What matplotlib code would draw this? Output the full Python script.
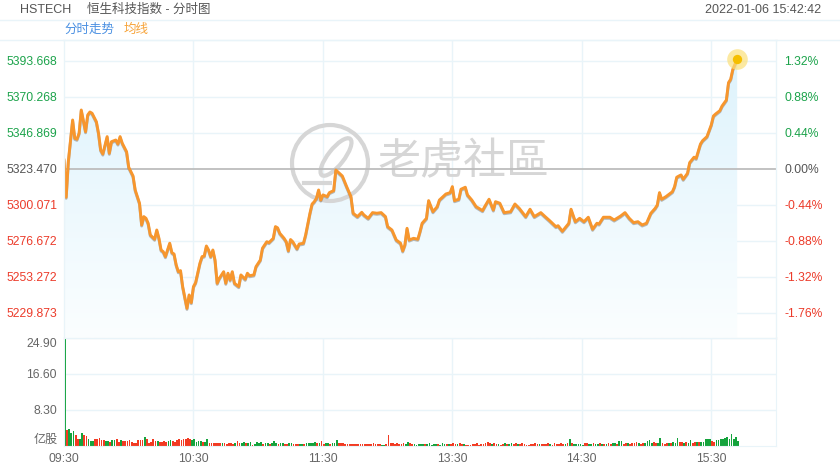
import matplotlib.pyplot as plt
import matplotlib.patheffects as pe
from matplotlib.colors import LinearSegmentedColormap
from matplotlib.patches import Circle, Ellipse
import numpy as np

plt.rcParams['font.family'] = ['Liberation Sans', 'Noto Sans CJK SC', 'DejaVu Sans']

# ---- data ----
prev_close = 5323.47

# minutes after 09:30 (lunch break removed: 13:00 = 150)
minutes = [0, 1, 2, 4, 5, 6, 7, 8, 10, 11, 12, 13, 15, 16, 17, 18, 20, 21, 22, 24,
           25, 26, 27, 29, 30, 32, 33, 35, 36, 37, 38, 39, 40, 42, 43, 44, 45, 46, 47, 49,
           50, 51, 52, 53, 54, 55, 57, 58, 59, 60, 61, 63, 64, 65, 66, 67, 68, 69, 70, 71,
           72, 74, 75, 76, 77, 78, 79, 81, 82, 84, 85, 86, 88, 89, 91, 92, 94, 95, 97, 98,
           99, 100, 102, 103, 104, 105, 106, 108, 109, 111, 112, 114, 115, 116, 117, 118, 119, 120, 122, 123,
           125, 126, 128, 129, 131, 133, 134, 136, 138, 139, 141, 143, 145, 147, 149, 150, 152, 153, 154, 156,
           157, 158, 159, 160, 162, 164, 165, 166, 168, 169, 171, 173, 174, 177, 179, 180, 181, 183, 184, 186,
           187, 189, 191, 194, 195, 197, 199, 200, 202, 204, 207, 209, 211, 214, 216, 218, 221, 223, 225, 228,
           229, 231, 234, 235, 237, 239, 241, 243, 245, 247, 248, 250, 253, 255, 258, 260, 262, 264, 266, 268,
           270, 272, 274, 275, 276, 277, 279, 282, 283, 284, 285, 286, 287, 289, 290, 292, 293, 295, 296, 298,
           300, 301, 302, 304, 305, 307, 308, 309, 310, 312]

prices = [5329.3, 5305.1, 5328.2, 5355.3, 5343.4, 5342.8, 5346.7, 5361.8, 5347.7, 5358.6,
          5360.5, 5359.7, 5354.2, 5346.7, 5335.8, 5333.2, 5344.5, 5333.7, 5341.2, 5342.3,
          5339.7, 5344.5, 5340.2, 5334.7, 5324.6, 5318.9, 5309.8, 5301.2, 5287.1, 5292.5,
          5291.4, 5288.2, 5280.6, 5277.8, 5283.8, 5278.4, 5270.8, 5269.7, 5266.5, 5275.2,
          5269.1, 5268.2, 5261.1, 5256.7, 5257.4, 5247.0, 5232.9, 5241.6, 5236.6, 5247.0,
          5249.6, 5262.2, 5266.5, 5266.9, 5273.4, 5270.8, 5266.5, 5270.8, 5264.3, 5249.2,
          5252.4, 5256.7, 5249.2, 5255.7, 5251.3, 5256.7, 5249.2, 5247.0, 5254.6, 5251.8,
          5255.7, 5254.1, 5254.6, 5260.0, 5264.3, 5272.0, 5276.2, 5275.6, 5278.4, 5286.0,
          5285.2, 5281.7, 5278.4, 5276.2, 5270.3, 5277.6, 5276.2, 5271.6, 5274.7, 5275.2,
          5280.6, 5294.7, 5300.7, 5302.2, 5304.4, 5309.8, 5303.3, 5306.6, 5305.5, 5308.1,
          5309.4, 5322.8, 5320.2, 5318.9, 5312.0, 5305.5, 5294.7, 5292.5, 5295.3, 5293.6,
          5291.4, 5295.1, 5294.7, 5295.1, 5292.5, 5286.0, 5283.8, 5280.6, 5277.3, 5275.2,
          5270.2, 5274.1, 5284.9, 5277.3, 5278.4, 5277.8, 5282.7, 5288.2, 5291.4, 5302.9,
          5295.7, 5299.0, 5303.3, 5307.2, 5308.1, 5312.0, 5302.9, 5303.8, 5310.3, 5311.6,
          5306.6, 5303.3, 5299.0, 5296.4, 5299.0, 5303.8, 5296.8, 5302.2, 5301.2, 5295.1,
          5295.7, 5300.7, 5297.9, 5292.5, 5297.3, 5292.5, 5295.1, 5292.5, 5290.0, 5286.0,
          5286.6, 5283.0, 5288.2, 5297.3, 5289.2, 5291.4, 5289.2, 5292.1, 5284.3, 5288.2,
          5287.7, 5292.1, 5292.1, 5290.3, 5292.9, 5295.1, 5291.4, 5288.6, 5289.2, 5287.1,
          5288.2, 5294.7, 5297.9, 5300.1, 5308.1, 5303.8, 5305.5, 5308.7, 5312.0, 5318.1,
          5318.9, 5319.6, 5316.8, 5320.7, 5327.6, 5331.1, 5330.4, 5339.7, 5341.9, 5344.5,
          5352.1, 5357.9, 5359.2, 5361.4, 5364.4, 5368.3, 5379.6, 5381.8, 5388.3, 5394.8]

# volume per minute (亿股), g = up, r = down
volume = [24.9, 3.7, 3.9, 3.1, 3.4, 2.5, 1.5, 1.6, 2.9, 2.5,
          2.2, 1.5, 1.15, 1.15, 1.7, 1.6, 1.8, 1.4, 1.4, 1.15,
          1.15, 0.9, 1.4, 1.3, 1.5, 0.9, 1.3, 1.15, 1.1, 1.15,
          1.4, 0.85, 0.8, 0.8, 1.4, 1.4, 1.4, 2.0, 1.5, 0.8,
          0.9, 1.5, 1.1, 1.15, 1.0, 1.0, 1.2, 1.0, 1.15, 1.4,
          1.15, 0.85, 1.4, 1.6, 1.4, 1.5, 1.7, 1.8, 1.6, 1.4,
          1.5, 0.85, 1.15, 1.2, 0.85, 1.0, 1.5, 0.8, 0.8, 0.8,
          0.6, 0.7, 0.8, 0.8, 0.6, 0.55, 0.6, 0.7, 0.55, 0.6,
          1.15, 0.8, 0.8, 0.85, 0.8, 0.6, 0.85, 0.3, 0.45, 0.9,
          0.6, 0.9, 0.5, 0.6, 0.7, 0.5, 0.6, 1.2, 0.6, 0.5,
          0.7, 0.6, 0.5, 0.4, 0.6, 0.8, 0.4, 0.4, 0.5, 0.4,
          0.5, 0.4, 0.7, 0.6, 0.8, 0.6, 0.9, 0.6, 0.7, 1.1,
          0.5, 0.6, 0.7, 0.5, 0.6, 0.8, 1.4, 0.8, 0.6, 0.7,
          0.5, 0.5, 0.4, 0.5, 0.4, 0.4, 0.4, 0.4, 0.4, 0.4,
          0.4, 0.5, 0.4, 0.6, 0.5, 0.4, 0.4, 0.3, 0.3, 0.5,
          2.5, 0.7, 0.6, 0.5, 0.6, 0.4, 0.5, 0.6, 0.4, 1.0,
          0.6, 0.4, 0.5, 0.3, 0.5, 0.4, 0.5, 0.4, 0.5, 0.6,
          0.3, 0.5, 0.4, 0.4, 0.3, 0.6, 0.4, 0.5, 0.4, 0.4,
          0.6, 0.5, 0.4, 0.6, 0.5, 0.4, 0.3, 0.3, 0.3, 0.4,
          0.5, 0.6, 0.3, 0.4, 0.5, 0.6, 0.9, 0.8, 0.5, 0.6,
          0.4, 0.5, 0.3, 0.4, 0.6, 0.5, 0.4, 0.6, 0.5, 0.7,
          0.5, 0.4, 0.6, 0.4, 0.3, 0.3, 0.5, 0.4, 0.6, 0.5,
          0.5, 0.4, 0.5, 0.4, 0.6, 0.5, 0.3, 0.6, 0.5, 0.4,
          0.8, 0.5, 0.4, 0.6, 1.6, 0.6, 0.4, 0.5, 0.4, 0.4,
          0.3, 0.6, 0.7, 0.5, 0.4, 0.6, 0.5, 0.5, 0.6, 0.4,
          0.5, 0.4, 0.6, 0.5, 0.6, 0.7, 0.5, 1.15, 1.1, 0.5,
          0.6, 0.7, 0.5, 0.8, 0.6, 0.9, 0.7, 0.5, 0.8, 0.6,
          1.1, 1.4, 0.7, 0.9, 0.6, 0.8, 1.9, 0.7, 0.5, 0.6,
          0.8, 0.6, 0.9, 0.8, 1.9, 0.9, 0.9, 0.7, 0.9, 0.8,
          1.4, 0.8, 0.9, 1.0, 0.9, 1.0, 0.9, 1.5, 1.7, 1.6,
          1.2, 1.0, 1.4, 1.3, 1.6, 1.5, 1.9, 2.1, 1.6, 2.8,
          1.5, 2.0, 1.2]

vol_dir = ("grgggrrggr" "rgggrrrrrg" "grggrrgrrr" "rrrrrrrgrr" "rrrgrrrrgg"
           "rrrrrrrrrg" "ggggrggrrr" "rrrgrrrrrg" "rrggrggrgg" "ggrggrgggr"
           "ggrrggrrrg" "grgggggrgr" "rggrgggrrr" "rrrrrrrrrr" "rrrrrrrggr"
           "rrrrrrrrgg" "rrgggggrgg" "gggrgggrgr" "rrgrrgrrrr" "rrrrrrrrgr"
           "rgrrgrggrr" "grrrrrrrrr" "grrrrgrrrr" "rrgrgrgggg" "grrggrggrg"
           "rgrrggrggr" "rgrrrrgrrg" "gggrrggrrr" "grgggrrgrg" "grrgrggggg"
           "rrgggggggg" "ggg")

time_ticks = [0, 60, 120, 180, 240, 300]
time_labels = ["09:30", "10:30", "11:30", "13:30", "14:30", "15:30"]
price_ticks = [5229.873, 5253.272, 5276.672, 5300.071, 5323.470, 5346.869, 5370.268, 5393.668]
pct_labels = ["-1.76%", "-1.32%", "-0.88%", "-0.44%", "0.00%", "0.44%", "0.88%", "1.32%"]
vol_ticks = [8.30, 16.60, 24.90]

# ---- style ----
GREEN = '#1ca34b'
RED = '#ec3b2a'
GRAY = '#555555'
GRID = '#e9f4f9'
LINE = '#f7962d'
WM = '#d6d6d6'
y_lo, y_hi = 5213.6, 5407.3

fig = plt.figure(figsize=(8.4, 4.7), dpi=100)
W, H = 840, 470
ax = fig.add_axes([64 / W, 1 - 338 / H, 712 / W, 298 / H])
axv = fig.add_axes([64 / W, 1 - 446 / H, 712 / W, 108 / H])

# header
fig.lines.append(plt.Line2D([0, 1], [1 - 20 / H] * 2, color=GRID, lw=1, transform=fig.transFigure))
fig.lines.append(plt.Line2D([0, 1], [1 - 40 / H] * 2, color=GRID, lw=1, transform=fig.transFigure))
fig.text(20 / W, 1 - 10 / H, "HSTECH", color=GRAY, fontsize=9, va='center')
fig.text(87 / W, 1 - 10 / H, "恒生科技指数 - 分时图", color=GRAY, fontsize=9, va='center')
fig.text(821 / W, 1 - 10 / H, "2022-01-06 15:42:42", color=GRAY, fontsize=9, va='center', ha='right')
fig.text(64 / W, 1 - 30 / H, "分时走势", color='#4a90e2', fontsize=9, va='center')
fig.text(124 / W, 1 - 30 / H, "均线", color='#f7a43a', fontsize=9, va='center')

# price panel
ax.set_xlim(0, 330)
ax.set_ylim(y_lo, y_hi)
for t in price_ticks:
    if abs(t - prev_close) > 0.01:
        ax.axhline(t, color=GRID, lw=1, zorder=0.2)
for t in time_ticks[1:]:
    ax.axvline(t, color=GRID, lw=1, zorder=0.2)
ax.axhline(prev_close, color='#bdbdbd', lw=1.3, zorder=1.5)

cmap = LinearSegmentedColormap.from_list('fade', ['#fbfeff', '#dcf2fc'])
grad = np.linspace(1, 0, 256).reshape(-1, 1)
img = ax.imshow(grad, cmap=cmap, extent=[0, 330, y_lo, y_hi], aspect='auto',
                origin='upper', zorder=0.3)
poly = ax.fill_between(minutes, prices, y_lo, facecolor='none', lw=0)
img.set_clip_path(poly.get_paths()[0], transform=ax.transData)

# watermark
cy = (H - 163) / 100
ax.add_patch(Circle((3.30, cy), 0.38, transform=fig.dpi_scale_trans,
                    fill=False, edgecolor=WM, lw=3, zorder=0.6))
ax.add_patch(Ellipse((3.36, cy + 0.06), 0.16, 0.46, angle=-38, transform=fig.dpi_scale_trans,
                     fill=False, edgecolor=WM, lw=3, zorder=0.6))
ax.plot([3.04 * 100 / W, 3.30 * 100 / W], [(cy - 0.2) * 100 / H] * 2, transform=fig.transFigure,
        color=WM, lw=3, zorder=0.6)
ax.text(378 / W, 1 - 163 / H, "老虎社區", transform=fig.transFigure, color=WM,
        fontsize=31, va='center', ha='left', zorder=0.6)

ax.plot(minutes, prices, color=LINE, lw=2.1, zorder=2, solid_joinstyle='round',
        path_effects=[pe.SimpleLineShadow(offset=(0, -0.8), shadow_color='#777777', alpha=0.5),
                      pe.Normal()])
ax.scatter([minutes[-1]], [prices[-1]], s=220, color='#fbe07a', alpha=0.7, zorder=3, lw=0)
ax.scatter([minutes[-1]], [prices[-1]], s=45, color='#f5bf00', zorder=4, lw=0)

ax.set_xticks([])
ax.set_yticks(price_ticks)
ax.set_yticklabels([f"{t:.3f}" for t in price_ticks], fontsize=8.7)
ax.tick_params(axis='y', length=0, pad=5)
for lab, t in zip(ax.get_yticklabels(), price_ticks):
    lab.set_color(GRAY if abs(t - prev_close) < 0.01 else (GREEN if t > prev_close else RED))

axr = ax.twinx()
axr.set_ylim(y_lo, y_hi)
axr.set_yticks(price_ticks)
axr.set_yticklabels(pct_labels, fontsize=8.7)
axr.tick_params(axis='y', length=0, pad=6)
for lab, t in zip(axr.get_yticklabels(), price_ticks):
    lab.set_color(GRAY if abs(t - prev_close) < 0.01 else (GREEN if t > prev_close else RED))

for a in (ax, axr):
    for s in a.spines.values():
        s.set_color(GRID)

# volume panel
axv.set_xlim(0, 330)
axv.set_ylim(0, 24.9)
for t in vol_ticks:
    axv.axhline(t, color=GRID, lw=1, zorder=0.2)
for t in time_ticks[1:]:
    axv.axvline(t, color=GRID, lw=1, zorder=0.2)
bar_colors = ['#14a33c' if c == 'g' else '#f23a22' for c in vol_dir]
axv.bar(range(len(volume)), volume, width=0.8, color=bar_colors, zorder=2, align='edge')
axv.set_yticks(vol_ticks)
axv.set_yticklabels([f"{v:.2f}" for v in vol_ticks], fontsize=8.7, color='#666666')
axv.get_yticklabels()[-1].set_va('top')
axv.text(-0.008, 1.3, "亿股", transform=axv.get_yaxis_transform(), ha='right', va='center',
         fontsize=8.7, color='#666666')
axv.set_xticks(time_ticks)
axv.set_xticklabels(time_labels, fontsize=8.7, color='#666666')
axv.tick_params(axis='both', length=0)
axv.tick_params(axis='y', pad=5)
axv.tick_params(axis='x', pad=5)
for s in axv.spines.values():
    s.set_color(GRID)

fig.savefig("out.png", dpi=100, facecolor='white')
